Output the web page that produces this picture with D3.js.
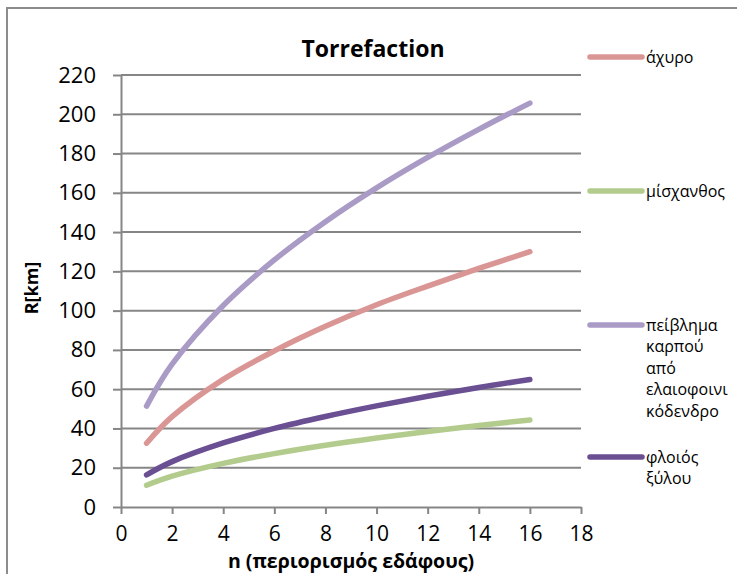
<!DOCTYPE html>
<html>
<head>
<meta charset="utf-8">
<script src="https://cdn.jsdelivr.net/npm/d3@7/dist/d3.min.js"></script>
<style>
  html, body { margin: 0; padding: 0; background: #fff; }
  svg { display: block; font-family: "Open Sans", "Noto Sans", sans-serif; }
</style>
</head>
<body>
<svg id="chart" width="737" height="574"></svg>
<script>
// n values (soil restriction) and transport radius R[km] per biomass type
const nValues = [1, 2, 4, 6, 8, 10, 12, 14, 16];
const achyro = [32.5, 46, 65, 79.5, 92, 103, 112.5, 121.5, 130];
const mischanthos = [11.1, 15.7, 22.2, 27.2, 31.4, 35.1, 38.4, 41.5, 44.3];
const peivlima = [51.4, 72.7, 102.6, 125.8, 145.3, 162.5, 178, 192.3, 205.7];
const floios = [16.4, 23.1, 32.6, 40, 46.1, 51.5, 56.4, 60.9, 64.9];

const seriesNames = ["άχυρο", "μίσχανθος", "πείβλημα καρπού από ελαιοφοινικόδενδρο", "φλοιός ξύλου"];
const legendLines = [["άχυρο"], ["μίσχανθος"], ["πείβλημα", "καρπού", "από", "ελαιοφοινι", "κόδενδρο"], ["φλοιός", "ξύλου"]];
const seriesColors = ["#d99694", "#b3cc8e", "#a99bc6", "#6a4f93"];
const xTicks = [0, 2, 4, 6, 8, 10, 12, 14, 16, 18];
const yTicks = [0, 20, 40, 60, 80, 100, 120, 140, 160, 180, 200, 220];

const seriesValues = [achyro, mischanthos, peivlima, floios];

const svg = d3.select("#chart");
const plot = { left: 121, right: 581, top: 75, bottom: 507 };

const x = d3.scaleLinear().domain([0, 18]).range([plot.left, plot.right]);
const y = d3.scaleLinear().domain([0, 220]).range([plot.bottom, plot.top]);

// chart area frame
svg.append("rect")
  .attr("x", 7).attr("y", 8)
  .attr("width", 760).attr("height", 600)
  .attr("fill", "#fff")
  .attr("stroke", "#8c8c8c").attr("stroke-width", 2);

// horizontal gridlines
svg.append("g")
  .selectAll("line")
  .data(yTicks.filter(d => d > 0))
  .join("line")
  .attr("x1", plot.left).attr("x2", plot.right)
  .attr("y1", d => y(d)).attr("y2", d => y(d))
  .attr("stroke", "#868686").attr("stroke-width", 2);

// y axis
const yAxis = svg.append("g")
  .attr("transform", `translate(${plot.left},0)`)
  .call(d3.axisLeft(y).tickValues(yTicks).tickSize(8).tickPadding(17).tickSizeOuter(0));
yAxis.select(".domain").attr("stroke", "#868686").attr("stroke-width", 2);
yAxis.selectAll(".tick line").attr("stroke", "#868686").attr("stroke-width", 2);
yAxis.selectAll(".tick text")
  .attr("fill", "#000").attr("font-size", 22)
  .attr("font-family", "'Open Sans', sans-serif");

// x axis
const xAxis = svg.append("g")
  .attr("transform", `translate(0,${plot.bottom})`)
  .call(d3.axisBottom(x).tickValues(xTicks).tickSize(7).tickPadding(12).tickSizeOuter(0));
xAxis.select(".domain").attr("stroke", "#868686").attr("stroke-width", 2);
xAxis.selectAll(".tick line").attr("stroke", "#868686").attr("stroke-width", 2);
xAxis.selectAll(".tick text")
  .attr("fill", "#000").attr("font-size", 21)
  .attr("font-family", "'Open Sans', sans-serif");

// series lines
const line = d3.line()
  .x((d, i) => x(nValues[i]))
  .y(d => y(d))
  .curve(d3.curveCatmullRom.alpha(0.5));

const drawOrder = [0, 1, 2, 3];
svg.append("g")
  .selectAll("path")
  .data(drawOrder)
  .join("path")
  .attr("d", i => line(seriesValues[i]))
  .attr("fill", "none")
  .attr("stroke", i => seriesColors[i])
  .attr("stroke-width", 5.5)
  .attr("stroke-linecap", "round")
  .attr("stroke-linejoin", "round");

// title
svg.append("text")
  .attr("x", 373).attr("y", 57)
  .attr("text-anchor", "middle")
  .attr("font-size", 23).attr("font-weight", "bold")
  .attr("fill", "#000")
  .text("Torrefaction");

// axis titles
svg.append("text")
  .attr("transform", "translate(38,288) rotate(-90)")
  .attr("text-anchor", "middle")
  .attr("font-size", 18).attr("font-weight", "bold")
  .attr("fill", "#000")
  .text("R[km]");

svg.append("text")
  .attr("x", (plot.left + plot.right) / 2).attr("y", 568)
  .attr("text-anchor", "middle")
  .attr("font-size", 19.5).attr("font-weight", "bold")
  .attr("fill", "#000")
  .text("n (περιορισμός εδάφους)");

// legend
const legendY = [57, 191, 325, 457];
const legend = svg.append("g");
legendLines.forEach((lines, i) => {
  const g = legend.append("g").attr("transform", `translate(0,${legendY[i]})`);
  g.append("line")
    .attr("x1", 590).attr("x2", 642)
    .attr("y1", 0).attr("y2", 0)
    .attr("stroke", seriesColors[i])
    .attr("stroke-width", 5.5)
    .attr("stroke-linecap", "round");
  const t = g.append("text")
    .attr("x", 646).attr("y", 0)
    .attr("font-size", 16)
    .attr("fill", "#000");
  lines.forEach((s, k) => {
    t.append("tspan")
      .attr("x", 646)
      .attr("y", k * 21.5)
      .attr("dy", "0.35em")
      .text(s);
  });
});
</script>
</body>
</html>
